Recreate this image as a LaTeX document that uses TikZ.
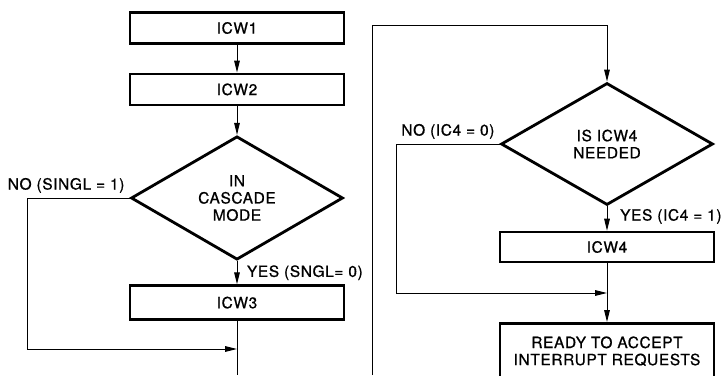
\documentclass[tikz,border=0pt]{standalone}
\usepackage{fontspec}
\setmainfont{TeX Gyre Heros}[LetterSpace=4,FakeBold=0.8]
\usetikzlibrary{shapes.geometric,arrows.meta}
\begin{document}
\begin{tikzpicture}[every node/.style={font=\fontsize{11}{12.2}\selectfont},
  icw/.style={draw,line width=1.8pt,minimum width=5.35cm,minimum height=0.78cm,inner sep=0pt},
  test/.style={draw,diamond,line width=2pt,minimum width=5.3cm,minimum height=3.05cm,inner sep=0pt,align=center},
  flow/.style={-{Triangle[length=3mm,width=1.4mm]},line width=0.7pt},
  wire/.style={line width=0.7pt}]
\clip (0,0) rectangle (18.1,9.375);
% left column: ICW1 .. ICW3
\node[icw] (icw1) at (5.925,8.675) {ICW1};
\node[icw] (icw2) at (5.925,7.14) {ICW2};
\node[test] (casc) at (5.925,4.425) {IN\\CASCADE\\MODE};
\node[icw,minimum height=0.85cm] (icw3) at (5.925,1.81) {ICW3};
\coordinate (join1) at (5.925,0.65);
\coordinate (out1) at (5.925,0);
\draw[flow] (icw1) -- (icw2);
\draw[flow] (icw2) -- (casc);
\draw[flow] (casc) -- node[right,xshift=0.12cm] {YES (SNGL= 0)} (icw3);
\draw[wire] (icw3) -- (out1);
\draw[flow] (casc.west) node[above left] {NO (SINGL = 1)} -- ++(-2.55,0) |- (join1);
% right column: ICW4 and ready
\node[test] (need4) at (15.175,5.775) {IS ICW4\\NEEDED};
\node[icw,minimum height=0.75cm] (icw4) at (15.175,3.2) {ICW4};
\node[draw,line width=1.8pt,align=center,minimum width=5.35cm,inner xsep=0pt,inner ysep=0.33cm,
  text depth=1.5cm,anchor=north] (ready) at (15.175,1.325) {READY TO ACCEPT\\INTERRUPT REQUESTS};
\coordinate (back) at (9.3,0);
\coordinate (join2) at (15.175,2.05);
\draw[flow] (back) -- ++(0,8.75) -| (need4.north);
\draw[flow] (need4) -- node[pos=0,anchor=west,xshift=0.2cm,yshift=-0.25cm] {YES (IC4 = 1)} (icw4);
\draw[flow] (need4.west) node[above left] {NO (IC4 = 0)} -- ++(-2.575,0) |- (join2);
\draw[flow] (icw4) -- (ready);
\end{tikzpicture}
\end{document}
